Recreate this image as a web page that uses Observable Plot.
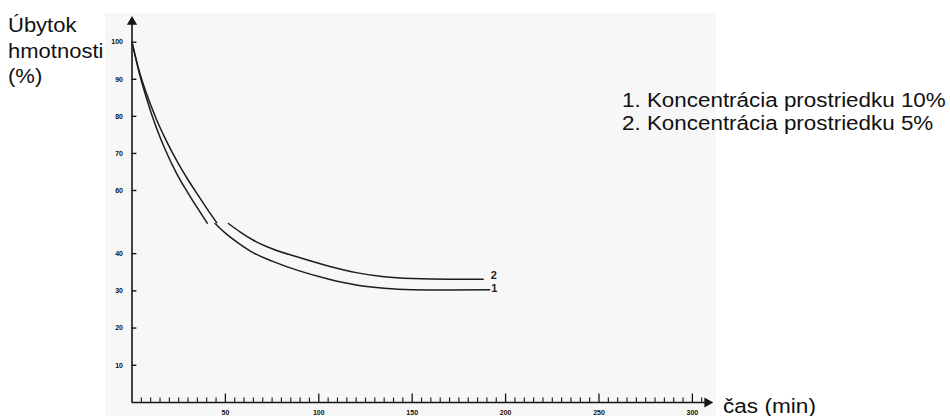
<!DOCTYPE html>
<html><head><meta charset="utf-8">
<script src="https://cdn.jsdelivr.net/npm/d3@7"></script>
<script src="https://cdn.jsdelivr.net/npm/@observablehq/plot@0.6"></script>
<style>
body{margin:0;background:#fff;}
#wrap{position:relative;width:950px;height:416px;overflow:hidden;font-family:"Liberation Sans",Arial,sans-serif;}
#bg{position:absolute;left:105px;top:13px;width:611px;height:403px;background:#f7f7f7;}
#chart{position:absolute;left:0;top:0;}
.lbl{position:absolute;font-size:20px;color:#111;white-space:nowrap;transform-origin:0 0;}
</style></head><body>
<div id="wrap">
  <div id="bg"></div>
  <div id="chart"></div>
  <div class="lbl" id="ylab" style="left:8px;top:13.3px;line-height:25.5px;transform:scaleX(1.1)"></div>
  <div class="lbl" id="legend" style="left:622px;top:89.1px;line-height:23.3px;transform:scaleX(1.12)"></div>
  <div class="lbl" id="xlab" style="left:723px;top:396px;line-height:20px;transform:scaleX(1.13)"></div>
</div>
<script>
// ---- data ----
// series 1: concentration 10 %  (time in min, mass loss in %) ; null = interrupted segment
const time10 = [0, 4, 8, 13, 18, 24, 30, 35, 40.3, 42, 44.5, 50, 57.9, 65, 75, 90, 105, 120, 135, 150, 170, 191.5];
const loss10 = [100, 91.5, 84.5, 77.0, 70.8, 64.5, 59.3, 55.3, 51.2, null, 48.2, 45.5, 42.5, 40.2, 38.0, 35.3, 33.2, 31.6, 30.7, 30.3, 30.2, 30.3];
// series 2: concentration 5 %
const time5 = [0, 4, 8, 13, 18, 24, 30, 35, 40, 45.4, 48, 51.6, 58, 65, 75, 90, 105, 120, 135, 150, 170, 188];
const loss5 = [100, 92.0, 85.8, 79.3, 73.8, 68.0, 62.9, 59.0, 55.2, 51.3, null, 48.1, 45.8, 43.6, 41.3, 38.9, 36.7, 34.9, 33.8, 33.3, 33.1, 33.1];
const seriesKeys = ["1", "2"];
const legendLabels = ["1. Koncentrácia prostriedku 10%", "2. Koncentrácia prostriedku 5%"];
const yTitle = ["Úbytok", "hmotnosti", "(%)"];
const xTitle = "čas (min)";
const yTicks = [10, 20, 30, 40, 60, 70, 80, 90, 100];
const xMajorTicks = [50, 100, 150, 200, 250, 300];
const xMinorTicks = d3.range(5, 310, 5).filter(d => d % 50 !== 0);

const rows10 = time10.map((t, i) => ({t, v: loss10[i], s: seriesKeys[0]}));
const rows5 = time5.map((t, i) => ({t, v: loss5[i], s: seriesKeys[1]}));

const ink = "#151515";
const chart = Plot.plot({
  width: 950, height: 416,
  marginLeft: 131.5, marginRight: 235.7, marginTop: 13.9, marginBottom: 14,
  style: {background: "transparent", fontFamily: "Liberation Sans, Arial, sans-serif", overflow: "visible"},
  x: {domain: [0, 312], axis: null},
  y: {type: "linear", domain: [0, 48.1, 51.1, 107.5], range: [402, 223, 223, 13.9], axis: null},
  marks: [
    // axes
    Plot.ruleX([0], {y1: 0, y2: 105.5, stroke: ink, strokeWidth: 1.6}),
    Plot.ruleY([0], {x1: 0, x2: 308, stroke: ink, strokeWidth: 1.6}),
    Plot.dot([0], {x: 0, y: 105.5, symbol: "triangle", r: 3.8, fill: ink, stroke: "none"}),
    Plot.dot([0], {x: 308, y: 0, symbol: "triangle", r: 3.8, fill: ink, stroke: "none", rotate: 90}),
    // y ticks
    Plot.ruleY(yTicks, {y: d => d, x1: 0, x2: 2.6, stroke: ink, strokeWidth: 1.4}),
    Plot.text(yTicks, {x: 0, y: d => d, text: d => String(d), dx: -9, textAnchor: "end", fontSize: 7, fontWeight: "bold", fill: "#111"}),
    // x ticks
    Plot.ruleX(xMinorTicks, {x: d => d, y1: 0, y2: 1.2, stroke: ink, strokeWidth: 1.1}),
    Plot.ruleX(xMajorTicks, {x: d => d, y1: 0, y2: 2.3, stroke: ink, strokeWidth: 1.3}),
    Plot.text(xMajorTicks, {x: d => d, y: 0, text: d => String(d), dy: 10.5, fontSize: 7, fontWeight: "bold", fill: "#111"}),
    // curves
    Plot.line(rows10, {x: "t", y: "v", curve: "monotone-x", stroke: "#1c1c1c", strokeWidth: 1.5}),
    Plot.line(rows5, {x: "t", y: "v", curve: "monotone-x", stroke: "#1c1c1c", strokeWidth: 1.5}),
    Plot.text(rows10, Plot.selectLast({x: "t", y: "v", text: "s", dx: 1.5, dy: -1, textAnchor: "start", fontSize: 11, fontWeight: "bold", fill: "#222"})),
    Plot.text(rows5, Plot.selectLast({x: "t", y: "v", text: "s", dx: 7.5, dy: -3.4, textAnchor: "start", fontSize: 11, fontWeight: "bold", fill: "#222"}))
  ]
});
document.getElementById("chart").appendChild(chart);
document.getElementById("ylab").innerHTML = yTitle.join("<br>");
document.getElementById("legend").innerHTML = legendLabels.join("<br>");
document.getElementById("xlab").textContent = xTitle;
</script>
</body></html>
